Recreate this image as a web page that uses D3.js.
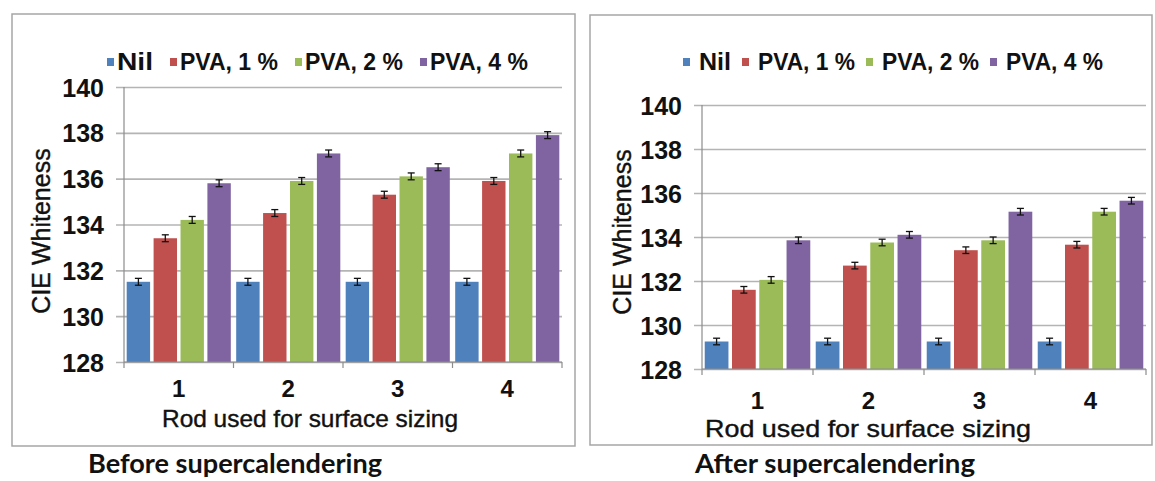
<!DOCTYPE html>
<html><head><meta charset="utf-8">
<script src="https://cdn.jsdelivr.net/npm/d3@7"></script>
<style>
html,body{margin:0;padding:0;background:#fff;}
svg{display:block;}
</style>
</head><body>
<svg id="chart" width="1155" height="481"></svg>
<script>
// ---- data ----
const categories = ["1", "2", "3", "4"];
const seriesNames = ["Nil", "PVA, 1 %", "PVA, 2 %", "PVA, 4 %"];
const seriesColors = ["#4F81BD", "#C0504D", "#9BBB59", "#8064A2"];
const yTicks = [128, 130, 132, 134, 136, 138, 140];

const beforeNil  = [131.5, 131.5, 131.5, 131.5];
const beforePva1 = [133.4, 134.5, 135.3, 135.9];
const beforePva2 = [134.2, 135.9, 136.1, 137.1];
const beforePva4 = [135.8, 137.1, 136.5, 137.9];

const afterNil  = [129.25, 129.25, 129.25, 129.25];
const afterPva1 = [131.6, 132.7, 133.4, 133.65];
const afterPva2 = [132.05, 133.75, 133.85, 135.15];
const afterPva4 = [133.85, 134.1, 135.15, 135.65];

const errBefore = [0.15, 0.15, 0.15, 0.15];
const errAfter  = [0.15, 0.15, 0.15, 0.15];

const xTitle = "Rod used for surface sizing";
const yTitle = "CIE Whiteness";
const captions = ["Before supercalendering", "After supercalendering"];

// ---- drawing ----
const svg = d3.select("#chart");
const FONT = "'Liberation Sans', Arial, sans-serif";

function drawPanel(p) {
  const g = svg.append("g");
  g.append("rect").attr("x", p.box[0]).attr("y", p.box[1])
    .attr("width", p.box[2]).attr("height", p.box[3])
    .attr("fill", "none").attr("stroke", "#a6a6a6").attr("stroke-width", 1.5);

  const x0 = d3.scaleBand().domain(categories).range([p.left, p.right]).padding(0);
  const x1 = d3.scaleBand().domain(seriesNames).range([0, x0.bandwidth()])
    .paddingInner(0.13).paddingOuter(0.1);
  const y = d3.scaleLinear().domain([128, 140]).range([p.bottom, p.top]);

  const yAxis = d3.axisLeft(y).tickValues(yTicks)
    .tickSize(-(p.right - p.left)).tickFormat("");
  const gy = g.append("g").attr("transform", `translate(${p.left},0)`).call(yAxis);
  gy.select(".domain").remove();
  gy.selectAll(".tick line").attr("stroke", "#b4b4b4").attr("stroke-width", 1.6)
    .attr("x1", -8);
  const yLab = d3.axisLeft(y).tickValues(yTicks).tickSize(0).tickPadding(20)
    .tickFormat(d3.format("d"));
  const gyl = g.append("g").attr("transform", `translate(${p.left},0)`).call(yLab);
  gyl.select(".domain").remove();
  gyl.selectAll("text").attr("font-family", FONT).attr("font-weight", "bold")
    .attr("font-size", 25).attr("fill", "#111").attr("dy", "0.36em");

  g.append("line").attr("x1", p.left).attr("x2", p.left)
    .attr("y1", p.top).attr("y2", p.bottom)
    .attr("stroke", "#8c8c8c").attr("stroke-width", 1.2);

  p.series.forEach((vals, si) => {
    const name = seriesNames[si];
    g.append("g").selectAll("rect").data(vals).join("rect")
      .attr("x", (d, i) => x0(categories[i]) + x1(name))
      .attr("y", d => y(d))
      .attr("width", x1.bandwidth())
      .attr("height", d => y(128) - y(d))
      .attr("fill", seriesColors[si]);
    const eg = g.append("g").attr("stroke", "#111").attr("stroke-width", 1.3);
    vals.forEach((d, i) => {
      const cx = x0(categories[i]) + x1(name) + x1.bandwidth() / 2;
      const e = p.err[i];
      eg.append("line").attr("x1", cx).attr("x2", cx).attr("y1", y(d + e)).attr("y2", y(d - e));
      eg.append("line").attr("x1", cx - 3.5).attr("x2", cx + 3.5).attr("y1", y(d + e)).attr("y2", y(d + e));
      eg.append("line").attr("x1", cx - 3.5).attr("x2", cx + 3.5).attr("y1", y(d - e)).attr("y2", y(d - e));
    });
  });

  g.append("line").attr("x1", p.left).attr("x2", p.right)
    .attr("y1", p.bottom).attr("y2", p.bottom)
    .attr("stroke", "#8c8c8c").attr("stroke-width", 1.2);
  const bounds = categories.map(c => x0(c)).concat([p.right]);
  g.append("g").selectAll("line").data(bounds).join("line")
    .attr("x1", d => d).attr("x2", d => d)
    .attr("y1", p.bottom).attr("y2", p.bottom + 6)
    .attr("stroke", "#8c8c8c").attr("stroke-width", 1.2);

  g.append("g").selectAll("text").data(categories).join("text")
    .attr("x", d => x0(d) + x0.bandwidth() / 2)
    .attr("y", p.xLabY)
    .attr("text-anchor", "middle")
    .attr("font-family", FONT).attr("font-weight", "bold").attr("font-size", 24)
    .attr("fill", "#111").text(d => d);

  g.append("text").attr("x", p.xTitleX).attr("y", p.xTitleY)
    .attr("text-anchor", "middle").attr("font-family", FONT).attr("font-size", 24)
    .attr("stroke", "#111").attr("stroke-width", 0.4)
    .attr("textLength", p.xTitleLen).attr("lengthAdjust", "spacingAndGlyphs")
    .attr("fill", "#111").text(xTitle);

  g.append("text")
    .attr("transform", `translate(${p.yTitleX},${p.yTitleY}) rotate(-90)`)
    .attr("text-anchor", "middle").attr("font-family", FONT).attr("font-size", 25)
    .attr("stroke", "#111").attr("stroke-width", 0.4)
    .attr("fill", "#111").text(yTitle);

  // legend
  const lg = g.append("g");
  let lx = p.legX;
  seriesNames.forEach((n, i) => {
    lg.append("rect").attr("x", lx).attr("y", p.legY - 4).attr("width", 7).attr("height", 8)
      .attr("fill", seriesColors[i]);
    const w = i === 0 ? p.legNilW : p.legPvaW;
    lg.append("text").attr("x", lx + p.legSqToText).attr("y", p.legY).attr("dy", "0.36em")
      .attr("font-family", FONT).attr("font-weight", "bold").attr("font-size", 23)
      .attr("textLength", w).attr("lengthAdjust", "spacingAndGlyphs")
      .attr("fill", "#111").text(n);
    lx += p.legSqToText + w + p.legGap;
  });

  svg.append("text").attr("x", p.capX).attr("y", p.capY)
    .attr("font-family", "Lato, 'Open Sans', sans-serif").attr("font-weight", "bold")
    .attr("font-size", 26).attr("textLength", p.capLen).attr("lengthAdjust", "spacingAndGlyphs")
    .attr("fill", "#111").text(p.caption);
}

drawPanel({
  box: [12, 14, 563, 432],
  left: 124, right: 562, top: 87, bottom: 362,
  series: [beforeNil, beforePva1, beforePva2, beforePva4],
  err: errBefore,
  xLabY: 397, xTitleX: 310, xTitleY: 427, xTitleLen: 296,
  yTitleX: 50, yTitleY: 231,
  legX: 107, legY: 62, legSqToText: 10, legNilW: 36, legPvaW: 98, legGap: 17,
  caption: captions[0], capX: 88, capY: 473, capLen: 294
});

drawPanel({
  box: [590, 15, 562, 430],
  left: 702, right: 1146, top: 105, bottom: 369,
  series: [afterNil, afterPva1, afterPva2, afterPva4],
  err: errAfter,
  xLabY: 409, xTitleX: 868, xTitleY: 437, xTitleLen: 326,
  yTitleX: 631, yTitleY: 232,
  legX: 683, legY: 62, legSqToText: 16, legNilW: 32, legPvaW: 97, legGap: 11,
  caption: captions[1], capX: 695, capY: 473, capLen: 280
});
</script>
</body></html>
